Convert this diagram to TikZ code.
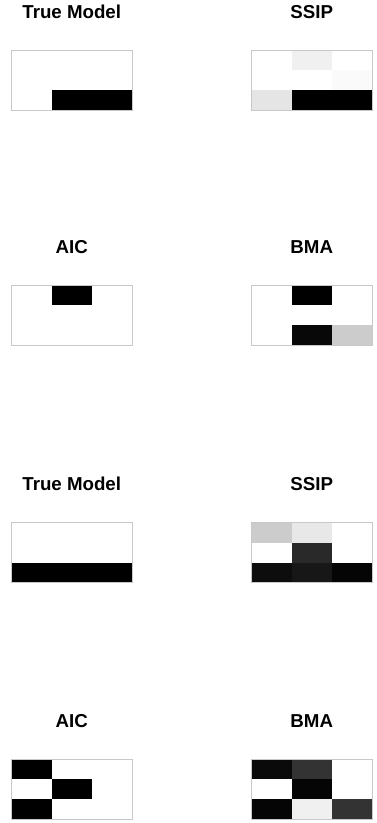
\documentclass[tikz,border=0pt]{standalone}
\usepackage{fontspec}
\setmainfont{Liberation Sans}
\begin{document}
\begin{tikzpicture}[x=1pt,y=-1pt,
  titlestyle/.style={anchor=base,font=\bfseries\fontsize{18.7}{21}\selectfont,inner sep=0pt},
  framestyle/.style={draw={rgb,255:red,200;green,200;blue,200},line width=0.8pt}]
\useasboundingbox (0,0) rectangle (377,823);
\newcommand\hmgrid[3]{%
  \foreach \d [count=\k from 0] in {#3} {%
    \pgfmathtruncatemacro\rr{int(\k/3)}%
    \pgfmathtruncatemacro\cc{mod(\k,3)}%
    \fill[black!\d] ({#1+\cc*40.5},{#2+\rr*20}) rectangle ++(40.5,20);
  }
  \draw[framestyle] (#1,#2) rectangle ++(121.5,60);
}
% row 1
\node[titlestyle] (t1) at (71.75,18.5) {True Model};
\node[titlestyle] (t2) at (311.75,18.5) {SSIP};
\hmgrid{11}{50}{0,0,0, 0,0,0, 0,100,100}
\hmgrid{251}{50}{0,6,0, 0,0,2, 10,100,100}
% row 2
\node[titlestyle] (t3) at (71.75,253.5) {AIC};
\node[titlestyle] (t4) at (311.75,253.5) {BMA};
\hmgrid{11}{285}{0,100,0, 0,0,0, 0,0,0}
\hmgrid{251}{285}{0,100,0, 0,0,0, 0,97,20}
% row 3
\node[titlestyle] (t5) at (71.75,490) {True Model};
\node[titlestyle] (t6) at (311.75,490) {SSIP};
\hmgrid{11}{522.7}{0,0,0, 0,0,0, 100,100,100}
\hmgrid{251}{522.7}{20,9,0, 0,84,0, 95,91,98}
% row 4
\node[titlestyle] (t7) at (71.75,727.8) {AIC};
\node[titlestyle] (t8) at (311.75,727.8) {BMA};
\hmgrid{11}{759.3}{100,0,0, 0,100,0, 100,0,0}
\hmgrid{251}{759.3}{96,80,0, 0,98,0, 98,6,80}
\end{tikzpicture}
\end{document}
